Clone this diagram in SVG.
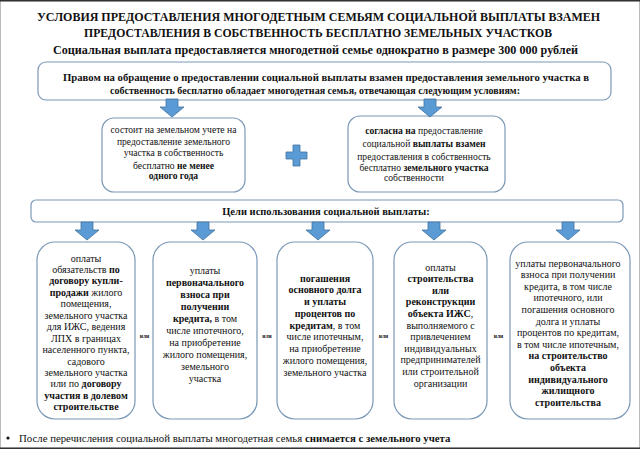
<svg xmlns="http://www.w3.org/2000/svg" xmlns:xlink="http://www.w3.org/1999/xlink" width="640" height="449" viewBox="0 0 640 449" font-family="'Liberation Serif', 'DejaVu Serif', serif">
<defs>
<style>
svg text, svg tspan{font-family:'Liberation Serif','DejaVu Serif',serif;}
text{fill:#111;}
.t{font-size:12.5px;font-weight:bold;text-anchor:middle;}
.s{font-size:11.5px;font-weight:bold;text-anchor:middle;}
.m{font-size:10.5px;font-weight:bold;text-anchor:middle;}
.c{font-size:9.6px;text-anchor:middle;}
.b{font-size:10px;text-anchor:middle;}
.k{font-weight:bold;}
.ili{font-size:5.5px;font-weight:bold;text-anchor:middle;}
.box{fill:#fff;stroke:#7a98b6;stroke-width:1.2;}
.arr{fill:#5b9bd5;stroke:#41719c;stroke-width:0.8;}
</style>
<path id="arrow" class="arr" d="M-6,0 H6 V8 H12 L0,18 L-12,8 H-6 Z"/>
</defs>
<rect x="0" y="0" width="640" height="449" fill="#fff"/>
<rect x="0.5" y="0.75" width="639" height="447.5" fill="none" stroke="#bbb" stroke-width="1"/>
<line x1="0" y1="0.75" x2="640" y2="0.75" stroke="#333" stroke-width="1.5"/>
<line x1="0" y1="448.25" x2="640" y2="448.25" stroke="#333" stroke-width="1.5"/>

<g id="title">
<text class="t" x="318.5" y="21" textLength="563" lengthAdjust="spacingAndGlyphs">УСЛОВИЯ ПРЕДОСТАВЛЕНИЯ МНОГОДЕТНЫМ СЕМЬЯМ СОЦИАЛЬНОЙ ВЫПЛАТЫ ВЗАМЕН</text>
<text class="t" x="318" y="37" textLength="468" lengthAdjust="spacingAndGlyphs">ПРЕДОСТАВЛЕНИЯ В СОБСТВЕННОСТЬ БЕСПЛАТНО ЗЕМЕЛЬНЫХ УЧАСТКОВ</text>
<text class="s" x="315.5" y="54" textLength="525" lengthAdjust="spacingAndGlyphs">Социальная выплата предоставляется многодетной семье однократно в размере 300 000 рублей</text>
</g>

<g id="node-right">
<rect class="box" x="38" y="62" width="573" height="38" rx="8"/>
<text class="m" x="326" y="81" textLength="526" lengthAdjust="spacingAndGlyphs">Правом на обращение о предоставлении социальной выплаты взамен предоставления земельного участка в</text>
<text class="m" x="315" y="94" textLength="410" lengthAdjust="spacingAndGlyphs">собственность бесплатно обладает многодетная семья, отвечающая следующим условиям:</text>
</g>

<g id="node-cond1">
<rect class="box" x="102" y="118" width="143" height="74" rx="12"/>
<text class="c" x="173.5" y="133">состоит на земельном учете на</text>
<text class="c" x="173.5" y="145">предоставление земельного</text>
<text class="c" x="173.5" y="156">участка в собственность</text>
<text class="c" x="173.5" y="169">бесплатно <tspan class="k">не менее</tspan></text>
<text class="c k" x="173.5" y="179">одного года</text>
</g>

<g id="node-cond2">
<rect class="box" x="348" y="116" width="157" height="76" rx="12"/>
<text class="c" x="424" y="134"><tspan class="k">согласна на</tspan> предоставление</text>
<text class="c" x="424" y="147">социальной <tspan class="k">выплаты взамен</tspan></text>
<text class="c" x="424" y="160">предоставления в собственность</text>
<text class="c" x="424" y="171">бесплатно <tspan class="k">земельного участка</tspan></text>
<text class="c" x="414" y="181">собственности</text>
</g>

<g id="node-goals">
<rect class="box" x="31" y="200" width="592" height="22" rx="5"/>
<text class="m" x="326" y="215">Цели использования социальной выплаты:</text>
</g>

<g id="node-g1">
<rect class="box" x="37" y="242" width="98" height="177" rx="18"/>
<text class="b" x="86" y="261.5">оплаты</text>
<text class="b" x="86" y="273">обязательств <tspan class="k">по</tspan></text>
<text class="b k" x="86" y="284.4">договору купли-</text>
<text class="b" x="86" y="295.8"><tspan class="k">продажи</tspan> жилого</text>
<text class="b" x="86" y="307.3">помещения,</text>
<text class="b" x="86" y="318.7">земельного участка</text>
<text class="b" x="86" y="330.2">для ИЖС, ведения</text>
<text class="b" x="86" y="341.6">ЛПХ в границах</text>
<text class="b" x="86" y="353.1">населенного пункта,</text>
<text class="b" x="86" y="364.5">садового</text>
<text class="b" x="86" y="376">земельного участка</text>
<text class="b" x="86" y="387.4">или по <tspan class="k">договору</tspan></text>
<text class="b k" x="86" y="398.9">участия в долевом</text>
<text class="b k" x="86" y="410.3">строительстве</text>
</g>

<g id="node-g2">
<rect class="box" x="153" y="242" width="104" height="177" rx="18"/>
<text class="b" x="205" y="273.5">уплаты</text>
<text class="b k" x="205" y="285.6">первоначального</text>
<text class="b k" x="205" y="297.7">взноса при</text>
<text class="b k" x="205" y="309.8">получении</text>
<text class="b" x="205" y="321.9"><tspan class="k">кредита,</tspan> в том</text>
<text class="b" x="205" y="334">числе ипотечного,</text>
<text class="b" x="205" y="346.1">на приобретение</text>
<text class="b" x="205" y="358.2">жилого помещения,</text>
<text class="b" x="205" y="370.3">земельного</text>
<text class="b" x="205" y="382.4">участка</text>
</g>

<g id="node-g3">
<rect class="box" x="277" y="242" width="96" height="177" rx="18"/>
<text class="b k" x="325" y="281.5">погашения</text>
<text class="b k" x="325" y="293.3">основного долга</text>
<text class="b k" x="325" y="305">и уплаты</text>
<text class="b k" x="325" y="316.8">процентов по</text>
<text class="b" x="325" y="328.5"><tspan class="k">кредитам</tspan>, в том</text>
<text class="b" x="325" y="340.3">числе ипотечным,</text>
<text class="b" x="325" y="352">на приобретение</text>
<text class="b" x="325" y="363.8">жилого помещения,</text>
<text class="b" x="325" y="375.5">земельного участка</text>
</g>

<g id="node-g4">
<rect class="box" x="394" y="242" width="93" height="177" rx="18"/>
<text class="b" x="440.5" y="270.5">оплаты</text>
<text class="b k" x="440.5" y="282.1">строительства</text>
<text class="b k" x="440.5" y="293.7">или</text>
<text class="b k" x="440.5" y="305.3">реконструкции</text>
<text class="b" x="440.5" y="316.9"><tspan class="k">объекта ИЖС</tspan>,</text>
<text class="b" x="440.5" y="328.5">выполняемого с</text>
<text class="b" x="440.5" y="340.1">привлечением</text>
<text class="b" x="440.5" y="351.7">индивидуальных</text>
<text class="b" x="440.5" y="363.3">предпринимателей</text>
<text class="b" x="440.5" y="374.9">или строительной</text>
<text class="b" x="440.5" y="386.5">организации</text>
</g>

<g id="node-g5">
<rect class="box" x="510" y="242" width="120" height="177" rx="18"/>
<text class="b" x="568" y="266.5">уплаты первоначального</text>
<text class="b" x="568" y="278.1">взноса при получении</text>
<text class="b" x="568" y="289.7">кредита, в том числе</text>
<text class="b" x="568" y="301.3">ипотечного, или</text>
<text class="b" x="568" y="312.9">погашения основного</text>
<text class="b" x="568" y="324.5">долга и уплаты</text>
<text class="b" x="568" y="336.1">процентов по кредитам,</text>
<text class="b" x="568" y="347.7">в том числе ипотечным,</text>
<text class="b k" x="568" y="359.3">на строительство</text>
<text class="b k" x="568" y="370.9">объекта</text>
<text class="b k" x="568" y="382.5">индивидуального</text>
<text class="b k" x="568" y="394.1">жилищного</text>
<text class="b k" x="568" y="405.7">строительства</text>
</g>

<g id="connectors">
<use xlink:href="#arrow" href="#arrow" x="172" y="99"/>
<use xlink:href="#arrow" href="#arrow" x="430" y="99"/>
<path class="arr" d="M293,145 h7 v7 h7 v7 h-7 v7 h-7 v-7 h-7 v-7 h7 Z"/>
<use xlink:href="#arrow" href="#arrow" x="87" y="222"/>
<use xlink:href="#arrow" href="#arrow" x="203" y="222"/>
<use xlink:href="#arrow" href="#arrow" x="318" y="222"/>
<use xlink:href="#arrow" href="#arrow" x="434" y="222"/>
<use xlink:href="#arrow" href="#arrow" x="568" y="222"/>
<text class="ili" x="144.5" y="338">или</text>
<text class="ili" x="267" y="338">или</text>
<text class="ili" x="383.5" y="338">или</text>
<text class="ili" x="498.5" y="338">или</text>
</g>

<g id="footer">
<circle cx="8" cy="438" r="1.6" fill="#111"/>
<text x="19" y="441.5" style="font-size:10.8px">После перечисления социальной выплаты многодетная семья <tspan class="k">снимается с земельного учета</tspan></text>
</g>
</svg>
